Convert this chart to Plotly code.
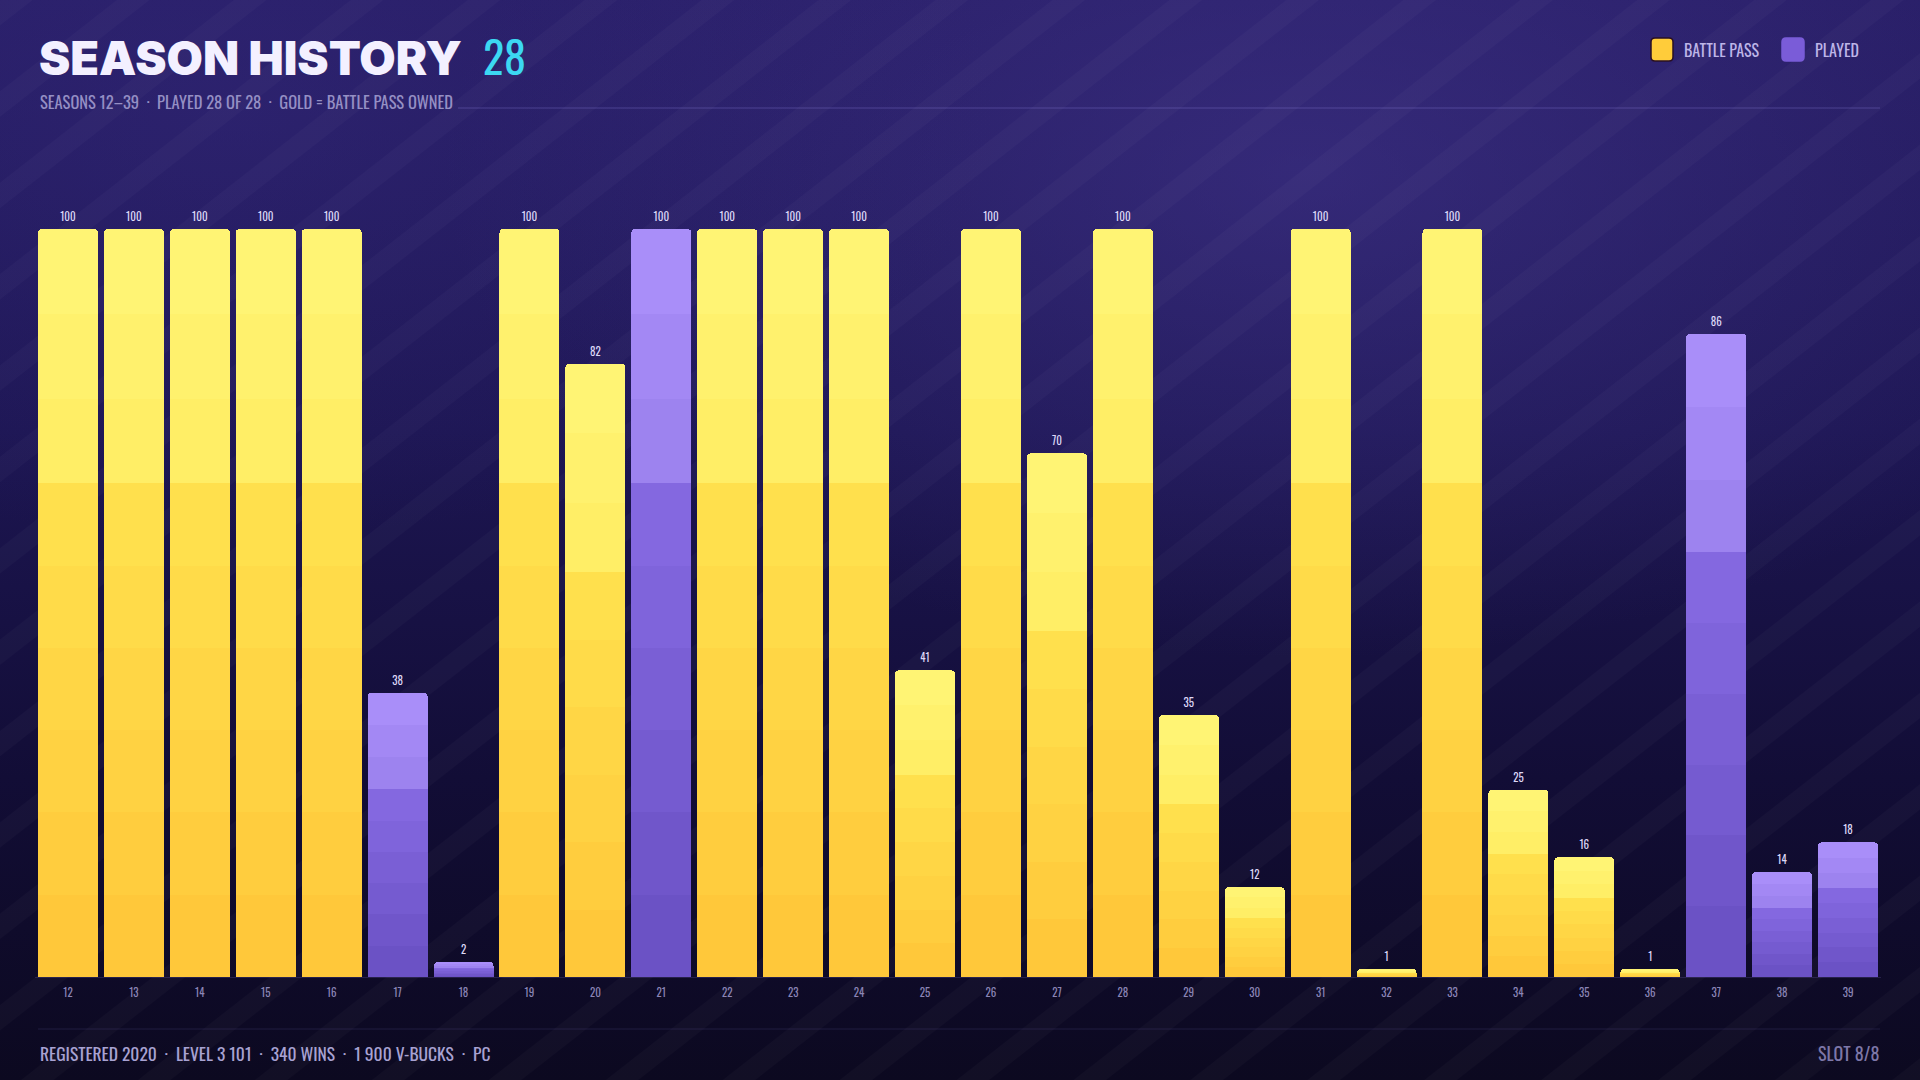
import base64
import plotly.graph_objects as go

W, H = 1920, 1080

seasons = [str(s) for s in range(12, 40)]
progress = [100, 100, 100, 100, 100, 38, 2, 100, 82, 100, 100, 100, 100, 41,
            100, 70, 100, 35, 12, 100, 1, 100, 25, 16, 1, 86, 14, 18]
battle_pass = [1, 1, 1, 1, 1, 0, 0, 1, 1, 0, 1, 1, 1, 1,
               1, 1, 1, 1, 1, 1, 1, 1, 1, 1, 1, 0, 0, 0]

title = "SEASON HISTORY"
title_count = "28"
subtitle = "SEASONS 12\u201339  \u00b7  PLAYED 28 OF 28  \u00b7  GOLD = BATTLE PASS OWNED"
footer = "REGISTERED 2020  \u00b7  LEVEL 3 101  \u00b7  340 WINS  \u00b7  1 900 V-BUCKS  \u00b7  PC"
footer_right = "SLOT 8/8"
legend_items = [("BATTLE PASS", "#ffcc3a"), ("PLAYED", "#7a5cd8")]

# gradient bands, bottom to top (share of bar height + colour)
BANDS = [0.11] * 6 + [0.34 / 3] * 3
GOLD = ["#ffc83a", "#ffcd3e", "#ffd242", "#ffd645", "#ffdb49", "#ffe04d",
        "#ffee66", "#fff16d", "#fff474"]
PURPLE = ["#6b52c5", "#7056ca", "#755bd0", "#7a5fd5", "#7f64db", "#8468e0",
          "#9d83ef", "#a388f4", "#a98ef9"]

COND = "Oswald, 'Roboto Condensed', 'Liberation Sans Narrow', 'DejaVu Sans Condensed', 'Noto Sans', sans-serif"


def px(x):
    return x / W


def py(y):
    return 1 - y / H


def rounded_rect(x0, y0, x1, y1, r):
    a, b, c, d = px(x0), px(x1), py(y0), py(y1)
    rx, ry = r / W, r / H
    return (f"M {a + rx},{c} L {b - rx},{c} Q {b},{c} {b},{c - ry} "
            f"L {b},{d + ry} Q {b},{d} {b - rx},{d} L {a + rx},{d} "
            f"Q {a},{d} {a},{d + ry} L {a},{c - ry} Q {a},{c} {a + rx},{c} Z")


# background: gradient + glow + diagonal stripes
svg = f"""<svg xmlns="http://www.w3.org/2000/svg" width="{W}" height="{H}" viewBox="0 0 {W} {H}">
<defs>
<linearGradient id="g" x1="0" y1="0" x2="0" y2="1">
<stop offset="0" stop-color="#271d65"/>
<stop offset="0.4" stop-color="#1d1653"/>
<stop offset="0.72" stop-color="#120d36"/>
<stop offset="1" stop-color="#0c0920"/>
</linearGradient>
<radialGradient id="r" cx="0.68" cy="0.16" r="0.45">
<stop offset="0" stop-color="#4a3c99" stop-opacity="0.45"/>
<stop offset="1" stop-color="#4a3c99" stop-opacity="0"/>
</radialGradient>
<radialGradient id="l" cx="0.12" cy="0.1" r="0.4">
<stop offset="0" stop-color="#3a2e86" stop-opacity="0.35"/>
<stop offset="1" stop-color="#3a2e86" stop-opacity="0"/>
</radialGradient>
<pattern id="p" width="72" height="72" patternUnits="userSpaceOnUse" patternTransform="rotate(52)">
<rect x="0" y="0" width="20" height="72" fill="#ffffff" fill-opacity="0.022"/>
</pattern>
</defs>
<rect width="{W}" height="{H}" fill="url(#g)"/>
<rect width="{W}" height="{H}" fill="url(#r)"/>
<rect width="{W}" height="{H}" fill="url(#l)"/>
<rect width="{W}" height="{H}" fill="url(#p)"/>
</svg>"""
bg_src = "data:image/svg+xml;base64," + base64.b64encode(svg.encode()).decode()

fig = go.Figure()

palette = [GOLD if bp else PURPLE for bp in battle_pass]
for i, frac in enumerate(BANDS):
    fig.add_trace(go.Bar(
        x=seasons,
        y=[v * frac for v in progress],
        marker=dict(color=[p[i] for p in palette], line=dict(width=0)),
        hoverinfo="skip",
        showlegend=False,
    ))

# value labels; the invisible marker just pushes the text up a little
fig.add_trace(go.Scatter(
    x=seasons, y=progress, mode="markers+text",
    marker=dict(size=7, opacity=0),
    text=[str(v) for v in progress],
    textposition="top center",
    textfont=dict(family=COND, size=11, color="#ddd8f7"),
    hoverinfo="skip", showlegend=False, cliponaxis=False,
))

annotations = [
    dict(x=px(37), y=py(57), text=title, xanchor="left", yanchor="middle",
         font=dict(family="Inter, Lato, 'Open Sans', sans-serif", size=47, color="#f3f0ff", weight=900)),
    dict(x=px(481), y=py(56), text=title_count, xanchor="left", yanchor="middle",
         font=dict(family=COND, size=44, color="#3cd8f2")),
    dict(x=px(38), y=py(101), text=subtitle, xanchor="left", yanchor="middle",
         font=dict(family=COND, size=16.5, color="#958fc4")),
    dict(x=px(38), y=py(1053), text=footer, xanchor="left", yanchor="middle",
         font=dict(family=COND, size=17.5, color="#a8a2d2")),
    dict(x=px(1881), y=py(1053), text=footer_right, xanchor="right", yanchor="middle",
         font=dict(family=COND, size=18, color="#7d77a8")),
]

shapes = [
    dict(type="line", xref="paper", yref="paper", x0=px(458), x1=px(1880),
         y0=py(108), y1=py(108), line=dict(color="rgba(140,128,220,0.35)", width=1)),
    dict(type="line", xref="paper", yref="paper", x0=px(38), x1=px(1880),
         y0=py(1029), y1=py(1029), line=dict(color="rgba(120,110,200,0.18)", width=1)),
]

legend_x = [1651, 1782]
for (label, color), lx in zip(legend_items, legend_x):
    shapes.append(dict(type="path", xref="paper", yref="paper",
                       path=rounded_rect(lx, 38, lx + 22, 61, 4),
                       fillcolor=color,
                       line=dict(color="#2a1024" if color == "#ffcc3a" else color, width=1.5)))
    annotations.append(dict(x=px(lx + 31), y=py(50), text=label, xanchor="left", yanchor="middle",
                            font=dict(family=COND, size=16, color="#bdb5e8")))

for a in annotations:
    a.update(xref="paper", yref="paper", showarrow=False)

fig.update_layout(
    width=W, height=H,
    margin=dict(l=0, r=0, t=0, b=0),
    paper_bgcolor="#140f38",
    plot_bgcolor="rgba(0,0,0,0)",
    barmode="stack",
    bargap=0.09,
    barcornerradius=4,
    annotations=annotations,
    shapes=shapes,
    images=[dict(source=bg_src, xref="paper", yref="paper", x=0, y=1, sizex=1, sizey=1,
                 xanchor="left", yanchor="top", sizing="stretch", layer="below")],
    xaxis=dict(domain=[px(35), px(1881)], type="category", range=[-0.5, len(seasons) - 0.5],
               showgrid=False, zeroline=False,
               showline=True, linecolor="rgba(110,100,180,0.25)", linewidth=1,
               ticks="", tickfont=dict(family=COND, size=11, color="#8b85b6"),
               ticklabelstandoff=6),
    yaxis=dict(domain=[py(977), py(229)], range=[0, 100], showgrid=False, zeroline=False,
               showticklabels=False, showline=False),
)

fig.write_html("out.html", config={"displayModeBar": False},
               post_script="document.body.style.margin='0';")
